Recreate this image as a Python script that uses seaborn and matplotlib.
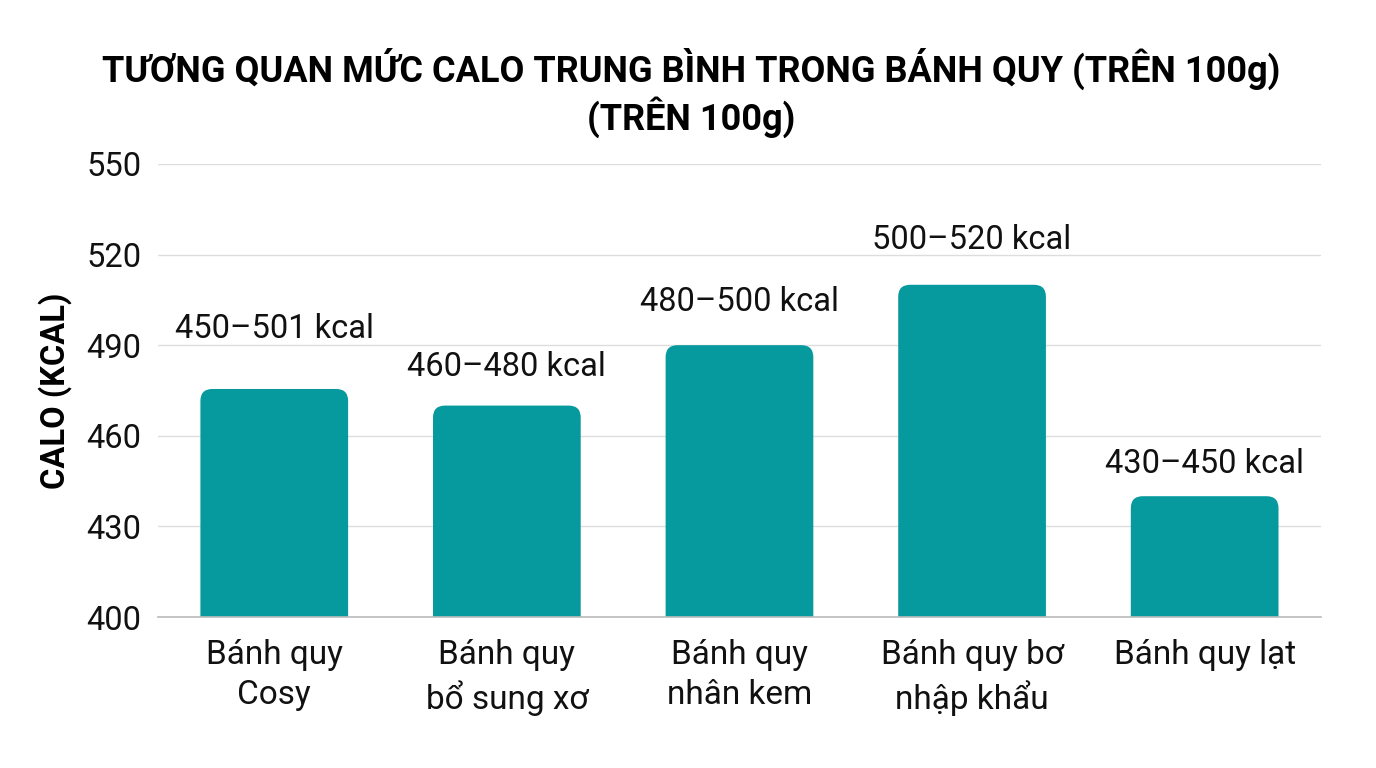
import numpy as np
import pandas as pd
import matplotlib
matplotlib.use("Agg")
import matplotlib.pyplot as plt
import seaborn as sns
from matplotlib.path import Path
from matplotlib.patches import PathPatch

categories = ["Bánh quy\nCosy", "Bánh quy\nbổ sung xơ", "Bánh quy\nnhân kem",
              "Bánh quy bơ\nnhập khẩu", "Bánh quy lạt"]
calories = [475.5, 470, 490, 510, 440]
range_labels = ["450–501 kcal", "460–480 kcal", "480–500 kcal", "500–520 kcal", "430–450 kcal"]
y_ticks = [400, 430, 460, 490, 520, 550]
title = "TƯƠNG QUAN MỨC CALO TRUNG BÌNH TRONG BÁNH QUY (TRÊN 100g)\n(TRÊN 100g)"
y_label = "CALO (KCAL)"

# label offsets above bar tops (points)
label_pad = [43, 28, 31, 32, 23]

sns.set_theme(style="white")
plt.rcParams["font.family"] = ["Roboto", "DejaVu Sans"]

BAR = "#06999D"
fig = plt.figure(figsize=(13.76, 7.68), dpi=100)
ax = fig.add_axes([0.1148, 0.1966, 0.8452, 0.5899])

df = pd.DataFrame({"cat": categories, "cal": calories})
sns.barplot(data=df, x="cat", y="cal", color=BAR, width=0.635, ax=ax, saturation=1)

ax.set_ylim(400, 550)
ax.set_xlim(-0.5, 4.5)
ax.set_yticks(y_ticks)
ax.yaxis.grid(True, color="#DDDDDD", linewidth=1.0)
ax.set_axisbelow(True)
for s in ["top", "right", "left"]:
    ax.spines[s].set_visible(False)
ax.spines["bottom"].set_color("#BBBBBB")
ax.spines["bottom"].set_linewidth(1.2)
ax.tick_params(axis="y", length=0, labelsize=23.5, colors="#111111", pad=12)
ax.tick_params(axis="x", length=0, labelsize=24, colors="#111111", pad=16)
for t in ax.get_xticklabels():
    t.set_linespacing(1.32)
ax.set_xlabel("")
ax.set_ylabel(y_label, fontsize=23.5, fontweight="bold", labelpad=10, color="#000000")

# rounded-top bars
fig.canvas.draw()
ppx = ax.transData.transform([(0, 0), (1, 1)])
ux = ppx[1, 0] - ppx[0, 0]
uy = ppx[1, 1] - ppx[0, 1]
r = 12
rx, ry = r / ux, r / uy
for p in list(ax.patches):
    x0, y0, w, h = p.get_x(), p.get_y(), p.get_width(), p.get_height()
    x1, y1 = x0 + w, y0 + h
    verts = [(x0, y0), (x0, y1 - ry), (x0, y1), (x0 + rx, y1), (x1 - rx, y1),
             (x1, y1), (x1, y1 - ry), (x1, y0), (x0, y0)]
    codes = [Path.MOVETO, Path.LINETO, Path.CURVE3, Path.CURVE3, Path.LINETO,
             Path.CURVE3, Path.CURVE3, Path.LINETO, Path.CLOSEPOLY]
    ax.add_patch(PathPatch(Path(verts, codes), facecolor=BAR, edgecolor="none", zorder=2))
    p.set_visible(False)

for i, (v, lab) in enumerate(zip(calories, range_labels)):
    ax.annotate(lab, xy=(i, v), xytext=(0, label_pad[i]), textcoords="offset points",
                ha="center", va="center", fontsize=23.5, color="#111111")

fig.suptitle(title, fontsize=26, fontweight="bold", x=0.502, y=0.938, linespacing=1.2,
             color="#000000")

fig.savefig("out.png", dpi=100, facecolor="white")
